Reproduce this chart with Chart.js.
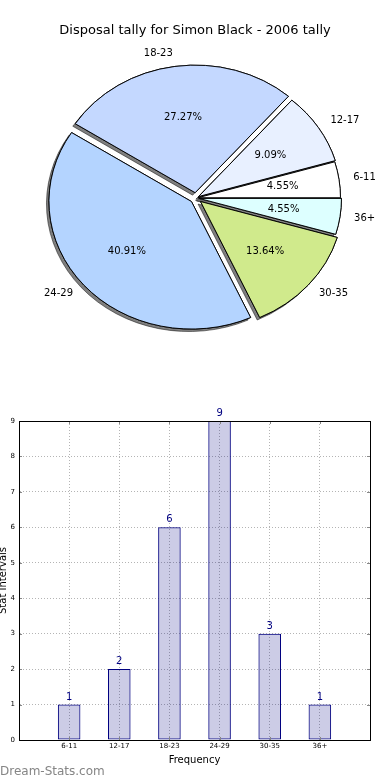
<!DOCTYPE html>
<html>
<head>
<meta charset="utf-8">
<title>Disposal tally for Simon Black - 2006 tally</title>
<script src="https://cdn.jsdelivr.net/npm/chart.js@4.4.1/dist/chart.umd.min.js"></script>
<style>
  html, body { margin: 0; padding: 0; background: #fff; }
  body { width: 390px; height: 780px; position: relative; overflow: hidden; font-family: "DejaVu Sans", sans-serif; }
  #pie { position: absolute; left: 0; top: 0; }
  #bar { position: absolute; left: 0; top: 380px; }
  #credit { position: absolute; left: 0; top: 765px; font-size: 12px; line-height: 12px; color: #858585; }
</style>
</head>
<body>
<canvas id="pie" width="390" height="370"></canvas>
<canvas id="bar" width="390" height="400"></canvas>
<div id="credit">Dream-Stats.com</div>
<script>
// Disposal ranges and how many games fell in each
const categories = ['6-11', '12-17', '18-23', '24-29', '30-35', '36+']
const tally = [1, 2, 6, 9, 3, 1]
const pieColours = ['#ffffff', '#e8f0ff', '#c4d8ff', '#b4d4ff', '#d0ea8c', '#ddffff']
// how far each wedge is pulled out (px)
const pieExplode = [2, 3, 6, 6, 6, 3]

const chartTitle = 'Disposal tally for Simon Black - 2006 tally'
const yTitle = 'Stat Intervals'
const xTitle = 'Frequency'

Chart.defaults.font.family = '"DejaVu Sans", sans-serif'
Chart.defaults.color = '#000'

const total = tally.reduce((a, b) => a + b, 0)
const percents = tally.map(v => (v / total * 100).toFixed(2) + '%')

// pie is drawn squashed like the original (not an equal-aspect axis)
const SY = 0.895

// Chart.js goes clockwise, the original goes anticlockwise from 3 o'clock,
// so feed the wedges in reverse order starting at 3 o'clock
const rev = arr => arr.slice().reverse()

const pieDraw = {
  id: 'pieDraw',
  beforeDatasetDraw(chart, args) {
    const ctx = chart.ctx
    const arcs = args.meta.data
    const explode = rev(pieExplode)
    const cx = arcs[0].x, cy = arcs[0].y
    // first pass: shadows, second pass: the wedges themselves
    ;[true, false].forEach(shadow => {
      arcs.forEach((arc, i) => {
        const a = (arc.startAngle + arc.endAngle) / 2
        ctx.save()
        if (shadow) {
          ctx.shadowColor = 'rgba(0,0,0,0.5)'
          ctx.shadowOffsetX = -2.5
          ctx.shadowOffsetY = 2.5
        }
        ctx.translate(cx, cy)
        ctx.scale(1, SY)
        ctx.translate(-cx + Math.cos(a) * explode[i], -cy + Math.sin(a) * explode[i])
        arc.draw(ctx)
        ctx.restore()
      })
    })
    return false
  },
  afterDraw(chart) {
    const ctx = chart.ctx
    const arcs = chart.getDatasetMeta(0).data
    const explode = rev(pieExplode)
    const labels = rev(categories)
    const pcts = rev(percents)
    ctx.save()
    ctx.fillStyle = '#000'
    ctx.font = '13px "DejaVu Sans"'
    ctx.textAlign = 'center'
    ctx.textBaseline = 'alphabetic'
    ctx.fillText(chartTitle, 195, 34)

    ctx.font = '10px "DejaVu Sans"'
    ctx.textBaseline = 'middle'
    arcs.forEach((arc, i) => {
      const a = (arc.startAngle + arc.endAngle) / 2
      const rx = arc.outerRadius, ry = arc.outerRadius * SY
      const ex = arc.x + Math.cos(a) * explode[i]
      const ey = arc.y + Math.sin(a) * explode[i] * SY
      const lx = ex + 1.1 * rx * Math.cos(a)
      const ly = ey + 1.1 * ry * Math.sin(a)
      ctx.textAlign = lx > ex ? 'left' : 'right'
      ctx.fillText(labels[i], lx, ly)
      ctx.textAlign = 'center'
      ctx.fillText(pcts[i], ex + 0.6 * rx * Math.cos(a), ey + 0.6 * ry * Math.sin(a))
    })
    ctx.restore()
  }
}

new Chart(document.getElementById('pie'), {
  type: 'pie',
  data: {
    labels: rev(categories),
    datasets: [{
      data: rev(tally),
      backgroundColor: rev(pieColours),
      borderColor: '#000',
      borderWidth: 1,
      radius: 142.5,
      clip: false
    }]
  },
  options: {
    responsive: false,
    animation: false,
    rotation: 90,
    layout: { padding: { left: 2, right: 0, top: 26, bottom: 0 } },
    plugins: { legend: { display: false }, tooltip: { enabled: false } }
  },
  plugins: [pieDraw]
})

// frame, inward tick marks and the value labels on the bars
const barExtras = {
  id: 'barExtras',
  afterDraw(chart) {
    const ctx = chart.ctx
    const { left, right, top, bottom } = chart.chartArea
    const xs = chart.scales.x, ys = chart.scales.y
    ctx.save()
    ctx.strokeStyle = '#888'
    ctx.lineWidth = 1
    ctx.beginPath()
    ys.ticks.forEach(t => {
      const y = Math.round(ys.getPixelForValue(t.value)) + 0.5
      ctx.moveTo(left, y); ctx.lineTo(left + 3, y)
      ctx.moveTo(right - 3, y); ctx.lineTo(right, y)
    })
    xs.ticks.forEach(t => {
      const x = Math.round(xs.getPixelForValue(t.value)) + 0.5
      ctx.moveTo(x, bottom); ctx.lineTo(x, bottom - 3)
      ctx.moveTo(x, top); ctx.lineTo(x, top + 3)
    })
    ctx.stroke()

    ctx.strokeStyle = '#000'
    ctx.strokeRect(Math.round(left) + 0.5, Math.round(top) + 0.5, Math.round(right - left), Math.round(bottom - top))

    ctx.fillStyle = '#000080'
    ctx.font = '10px "DejaVu Sans"'
    ctx.textAlign = 'center'
    ctx.textBaseline = 'alphabetic'
    chart.getDatasetMeta(0).data.forEach((bar, i) => {
      ctx.fillText(String(tally[i]), bar.x, bar.y - 5)
    })
    ctx.restore()
  }
}

const borderStyle = { color: '#000', width: 1, dash: [1, 2] }

new Chart(document.getElementById('bar'), {
  type: 'bar',
  data: {
    datasets: [{
      data: categories.map((c, i) => ({ x: i + 1, y: tally[i] })),
      backgroundColor: 'rgba(0,0,128,0.2)',
      borderColor: '#000080',
      borderWidth: 1,
      borderSkipped: false,
      barPercentage: 0.45,
      categoryPercentage: 1
    }]
  },
  options: {
    responsive: false,
    animation: false,
    layout: { padding: { left: 0, right: 20, top: 41, bottom: 0 } },
    plugins: { legend: { display: false }, tooltip: { enabled: false } },
    scales: {
      x: {
        type: 'linear',
        min: 0,
        max: 7,
        offset: false,
        ticks: {
          stepSize: 1,
          autoSkip: false,
          maxRotation: 0,
          padding: 2,
          font: { size: 7 },
          callback: v => categories[v - 1] || ''
        },
        grid: { color: '#b4b4b4', lineWidth: 1, drawTicks: false, offset: false },
        border: borderStyle,
        title: { display: true, text: xTitle, font: { size: 10 }, padding: { top: 0, bottom: 14 } },
        afterFit: s => { s.height = 40 }
      },
      y: {
        min: 0,
        max: 9,
        ticks: { stepSize: 1, padding: 4, font: { size: 7 } },
        grid: { color: '#b4b4b4', lineWidth: 1, drawTicks: false },
        border: borderStyle,
        title: { display: true, text: yTitle, font: { size: 10, lineHeight: 1 }, padding: { top: -2, bottom: 0 } },
        afterFit: s => { s.width = 19 }
      }
    }
  },
  plugins: [barExtras]
})
</script>
</body>
</html>
